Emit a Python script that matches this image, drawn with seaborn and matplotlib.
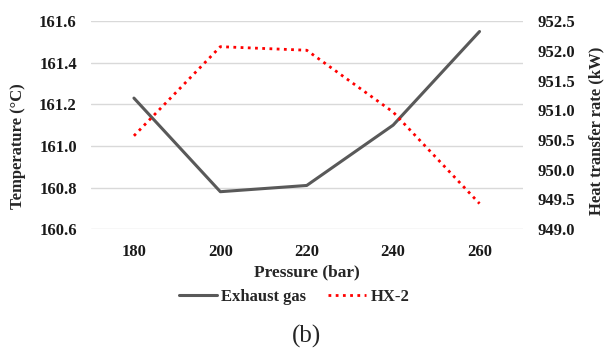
import seaborn as sns
import matplotlib.pyplot as plt
import pandas as pd

pressure = [180, 200, 220, 240, 260]
exhaust_temp = [161.23, 160.78, 160.81, 161.10, 161.55]
hx2_heat = [950.57, 952.07, 952.01, 950.97, 949.43]

sns.set_style("white")
plt.rcParams['font.family'] = ['Liberation Serif', 'DejaVu Serif']

df = pd.DataFrame({"pressure": pressure, "exhaust": exhaust_temp, "hx2": hx2_heat})

fig, ax = plt.subplots(figsize=(6.05, 3.52), dpi=100)
fig.subplots_adjust(left=0.150, right=0.864, top=0.940, bottom=0.349)
ax2 = ax.twinx()

sns.lineplot(data=df, x="pressure", y="exhaust", ax=ax, color="#595959", lw=2.2, label="Exhaust gas", legend=False)
sns.lineplot(data=df, x="pressure", y="hx2", ax=ax2, color="#ff0000", lw=2, ls=(0, (1, 1.6)), label="HX-2", legend=False)

ax.set_xlim(170, 270)
ax.set_xticks(pressure)
ax.set_ylim(160.6, 161.6)
ax.set_yticks([160.6, 160.8, 161.0, 161.2, 161.4, 161.6])
ax.set_yticklabels([f"{v:.1f}" for v in ax.get_yticks()])
ax2.set_ylim(949.0, 952.5)
ax2.set_yticks([949.0, 949.5, 950.0, 950.5, 951.0, 951.5, 952.0, 952.5])
ax2.set_yticklabels([f"{v:.1f}" for v in ax2.get_yticks()])

ax.grid(axis="y", color="#d9d9d9", lw=1)
for a in (ax, ax2):
    for s in a.spines.values():
        s.set_visible(False)
    a.tick_params(length=0, labelsize=12, colors="#1a1a1a")
    for t in a.get_xticklabels() + a.get_yticklabels():
        t.set_fontweight("bold")

ax.tick_params(axis="x", pad=11)
ax.tick_params(axis="y", pad=10)
ax2.tick_params(axis="y", pad=11)

ax.set_xlabel("Pressure (bar)", fontsize=12.5, fontweight="bold", color="#262626", va="center")
ax.xaxis.set_label_coords(0.5, -0.207)
ax.set_ylabel("Temperature (\u00b0C)", fontsize=12, fontweight="bold", color="#262626", va="center")
ax.yaxis.set_label_coords(-0.169, 0.40)
ax2.set_ylabel("Heat transfer rate (kW)", fontsize=12, fontweight="bold", color="#262626", va="center")
ax2.yaxis.set_label_coords(1.171, 0.475)

h1, l1 = ax.get_legend_handles_labels()
h2, l2 = ax2.get_legend_handles_labels()
leg = fig.legend(h1 + h2, l1 + l2, loc="center", bbox_to_anchor=(0.486, 0.156), ncol=2,
                 frameon=False, prop={"weight": "bold", "size": 12}, handlelength=2.3,
                 handletextpad=0.25, columnspacing=1.3, borderpad=0)
for t in leg.get_texts():
    t.set_color("#262626")

fig.text(0.507, 0.045, "(b)", ha="center", va="center", fontsize=18)

fig.savefig("out.png", dpi=100)
